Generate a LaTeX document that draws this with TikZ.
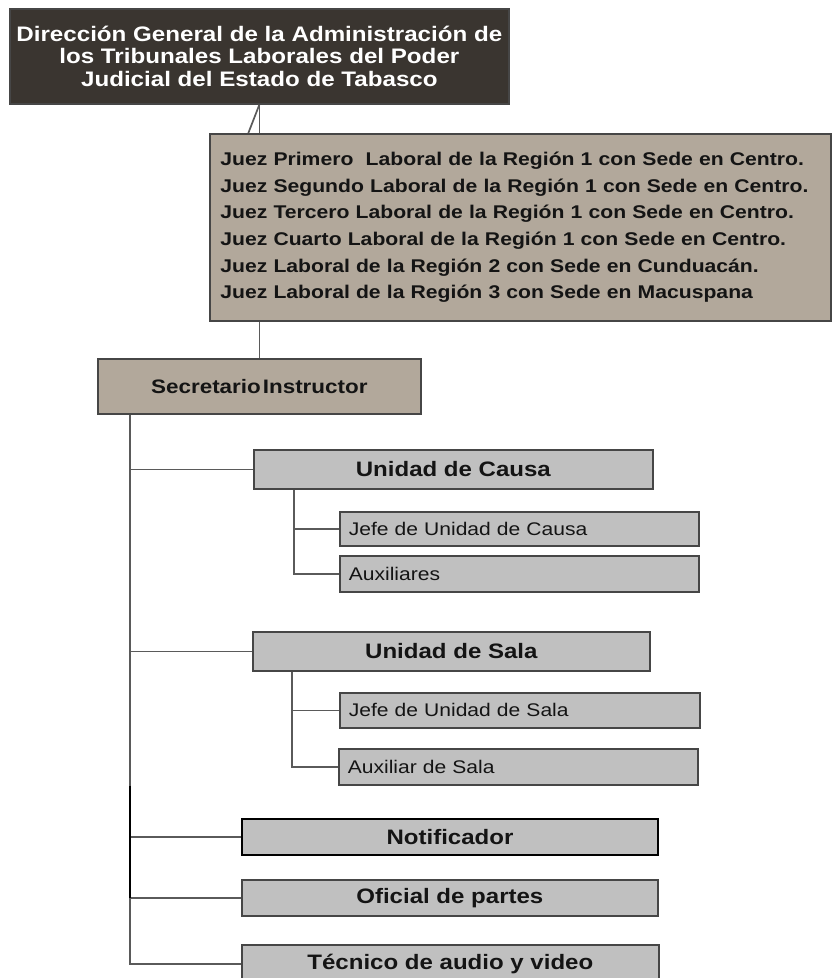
\documentclass[tikz,border=0pt]{standalone}
\usepackage{fontspec}
\usetikzlibrary{calc}
\newfontfamily\af[FakeStretch=1.15]{Liberation Sans}
\definecolor{topdark}{RGB}{58,53,48}
\definecolor{tanbox}{RGB}{178,168,155}
\definecolor{lgray}{RGB}{192,192,192}
\definecolor{bordergray}{RGB}{70,70,70}
\definecolor{linegray}{RGB}{90,90,90}
\definecolor{txt}{RGB}{20,20,20}
\begin{document}
\begin{tikzpicture}[x=1pt,y=-1pt,
  box/.style={draw=bordergray, line width=1.7pt, anchor=north west, inner sep=0pt, text=txt},
  darkbox/.style={box, fill=topdark, text=white, align=center,
    font=\af\bfseries\fontsize{21}{22.7}\selectfont},
  tanbx/.style={box, fill=tanbox},
  unitbox/.style={box, fill=lgray, font=\af\bfseries\fontsize{20.9}{22}\selectfont},
  subbox/.style={box, fill=lgray, align=left, font=\af\fontsize{18.3}{20}\selectfont},
  conn/.style={draw=linegray, line width=1.7pt}
]
\useasboundingbox (0,0) rectangle (831,978);

% nodes
\node[darkbox, minimum width=499pt, minimum height=95pt] (dir) at (9,8)
  {Dirección General de la Administración de\\los Tribunales Laborales del Poder\\Judicial del Estado de Tabasco};
\node[tanbx, minimum width=621pt, minimum height=187pt, text width=600pt, align=left,
  font=\af\bfseries\fontsize{18.4}{26.6}\selectfont] (jue) at (209,133)
  {Juez Primero~ Laboral de la Región 1 con Sede en Centro.\\
   Juez Segundo Laboral de la Región 1 con Sede en Centro.\\
   Juez Tercero Laboral de la Región 1 con Sede en Centro.\\
   Juez Cuarto Laboral de la Región 1 con Sede en Centro.\\
   Juez Laboral de la Región 2 con Sede en Cunduacán.\\
   Juez Laboral de la Región 3 con Sede en Macuspana};
\node[tanbx, minimum width=323pt, minimum height=55pt,
  font=\af\bfseries\fontsize{19.5}{22}\selectfont] (sec) at (97,358)
  {Secretario\hspace{2pt}Instructor};

\node[unitbox, minimum width=399pt, minimum height=39pt] (uc) at (253,449) {Unidad de Causa};
\node[subbox, minimum width=359pt, minimum height=34pt, text width=341pt] (jc) at (339,511) {Jefe de Unidad de Causa};
\node[subbox, minimum width=359pt, minimum height=36pt, text width=341pt] (ax) at (339,555) {Auxiliares};

\node[unitbox, minimum width=397pt, minimum height=39pt] (us) at (252,631) {Unidad de Sala};
\node[subbox, minimum width=360pt, minimum height=35pt, text width=342pt] (js) at (339,692) {Jefe de Unidad de Sala};
\node[subbox, minimum width=359pt, minimum height=36pt, text width=341pt] (as) at (338,748) {Auxiliar de Sala};

\node[unitbox, draw=black, line width=2pt, minimum width=416pt, minimum height=36pt] (nt) at (241,818) {Notificador};
\node[unitbox, minimum width=416pt, minimum height=36pt] (of) at (241,879) {Oficial de partes};
\node[unitbox, minimum width=417pt, minimum height=38pt] (tc) at (241,944) {Técnico de audio y video};

% connectors top
\draw[conn] (dir.south) -- (dir.south |- jue.north);
\draw[conn] (dir.south) -- ($(dir.south |- jue.north)+(-11,0)$);
\draw[conn] (sec.north |- jue.south) -- (sec.north);

% main trunk
\coordinate (trunk) at ($(sec.south west)+(33,0)$);
\draw[conn] (trunk) |- (tc.west);
\draw[conn] (trunk |- uc.west) -- (uc.west);
\draw[conn] (trunk |- us.west) -- (us.west);
\draw[conn] (trunk |- nt.west) -- (nt.west);
\draw[conn] (trunk |- of.west) -- (of.west);
\draw[draw=black, line width=2pt] (trunk |- as.south) -- (trunk |- of.west);

% unidad de causa branch
\coordinate (ucb) at ($(uc.south west)+(41,0)$);
\draw[conn] (ucb) |- (ax.west);
\draw[conn] (ucb |- jc.west) -- (jc.west);

% unidad de sala branch
\coordinate (usb) at ($(us.south west)+(40,0)$);
\draw[conn] (usb) |- (as.west);
\draw[conn] (usb |- js.west) -- (js.west);
\end{tikzpicture}
\end{document}
